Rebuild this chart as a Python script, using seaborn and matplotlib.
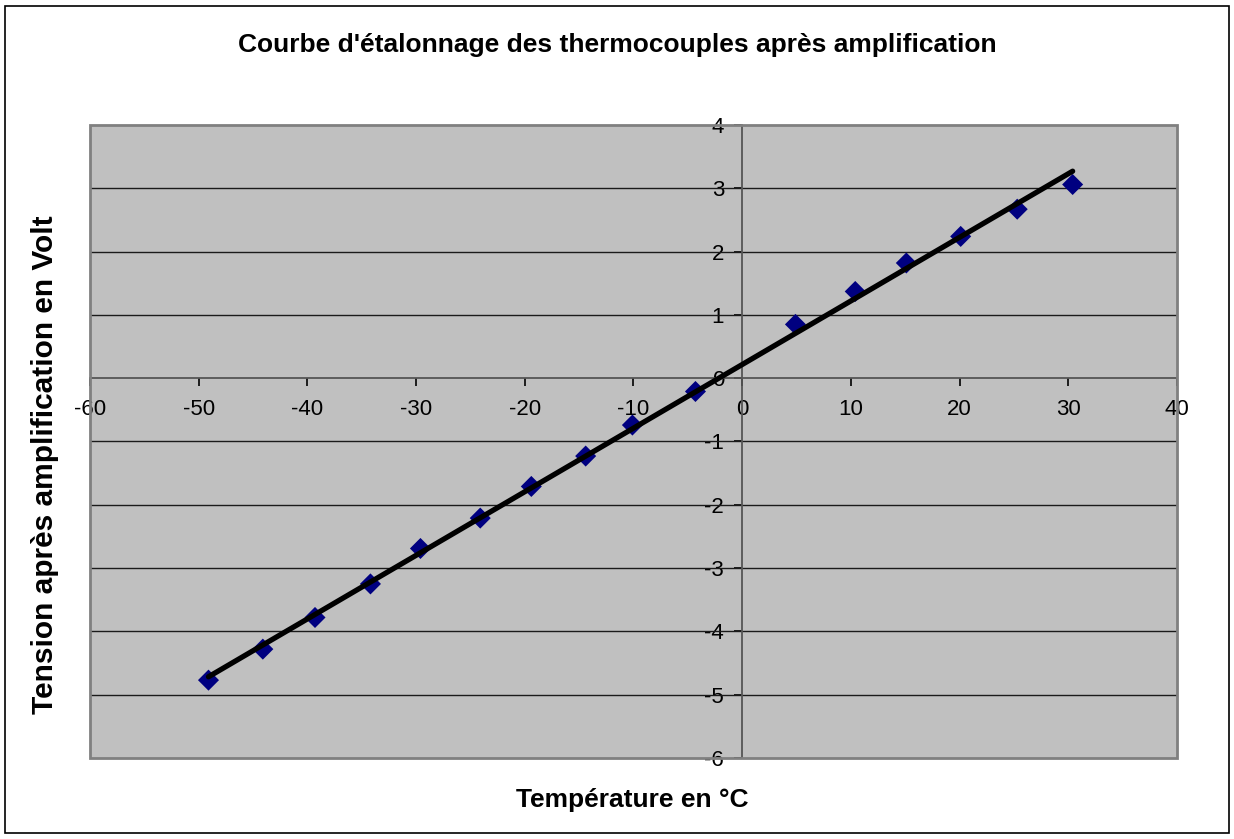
import matplotlib
matplotlib.use("Agg")
import matplotlib.pyplot as plt
import seaborn as sns
import pandas as pd
from matplotlib.patches import Rectangle

temperature = [-49.1, -44.1, -39.3, -34.2, -29.6, -24.1, -19.4, -14.4, -10.1, -4.3,
               4.9, 10.4, 15.1, 20.1, 25.3, 30.4]
tension = [-4.77, -4.28, -3.78, -3.25, -2.69, -2.21, -1.71, -1.23, -0.74, -0.21,
           0.85, 1.37, 1.82, 2.24, 2.67, 3.06]
x_ticks = [-60, -50, -40, -30, -20, -10, 0, 10, 20, 30, 40]
y_ticks = [-6, -5, -4, -3, -2, -1, 0, 1, 2, 3, 4]

df = pd.DataFrame({"temperature": temperature, "tension": tension})

sns.set_theme(style="white")
plt.rcParams["font.family"] = ["Liberation Sans", "DejaVu Sans"]
plt.rcParams["axes.unicode_minus"] = False
plt.rcParams["text.color"] = "black"

W, H = 1234, 839
fig = plt.figure(figsize=(W / 100, H / 100), dpi=100)
fig.patch.set_facecolor("white")
ax = fig.add_axes([90 / W, 1 - 758 / H, (1177 - 90) / W, (758 - 125) / H])
ax.set_facecolor("#c0c0c0")

# grille horizontale
for yv in y_ticks:
    if yv not in (0, 4, -6):
        ax.axhline(yv, color="#1a1a1a", lw=1.0, zorder=1)

sns.regplot(data=df, x="temperature", y="tension", ax=ax, ci=None, truncate=True,
            marker="D",
            scatter_kws={"s": 115, "color": "#000080", "alpha": 1,
                         "edgecolors": "none", "zorder": 3},
            line_kws={"color": "black", "lw": 3.8, "zorder": 4})

ax.set_xlim(-60, 40)
ax.set_ylim(-6, 4)
ax.set_xticks(x_ticks)
ax.set_yticks(y_ticks)
ax.set_xlabel("")
ax.set_ylabel("")

# axes qui se croisent en 0
for s in ("top", "right"):
    ax.spines[s].set_visible(False)
ax.spines["left"].set_position(("data", 0))
ax.spines["bottom"].set_position(("data", 0))
for s in ("left", "bottom"):
    ax.spines[s].set_color("#555555")
    ax.spines[s].set_linewidth(1.3)
    ax.spines[s].set_zorder(2)
ax.tick_params(axis="both", direction="out", length=6, width=1.2, color="black",
               labelsize=16, labelcolor="black", bottom=True, left=True)
ax.tick_params(axis="x", pad=9)
ax.tick_params(axis="y", pad=7)

# cadre de la zone de tracé
ax.add_patch(Rectangle((0, 0), 1, 1, transform=ax.transAxes, fill=False,
                       edgecolor="#808080", lw=2, zorder=5, clip_on=False))

# cadre extérieur
fig.patches.append(Rectangle((5 / W, 6 / H), (1229 - 5) / W, (833 - 6) / H,
                             transform=fig.transFigure, fill=False,
                             edgecolor="black", lw=1.2))

fig.text(617 / W, 1 - 45 / H, "Courbe d'étalonnage des thermocouples après amplification",
         ha="center", va="center", fontsize=19, fontweight="bold", color="black")
fig.text(632 / W, 1 - 800 / H, "Température en °C",
         ha="center", va="center", fontsize=19, fontweight="bold", color="black")
fig.text(45 / W, 1 - 465 / H, "Tension après amplification en Volt",
         ha="center", va="center", rotation=90, fontsize=21.5, fontweight="bold",
         color="black")

fig.savefig("out.png", dpi=100)
